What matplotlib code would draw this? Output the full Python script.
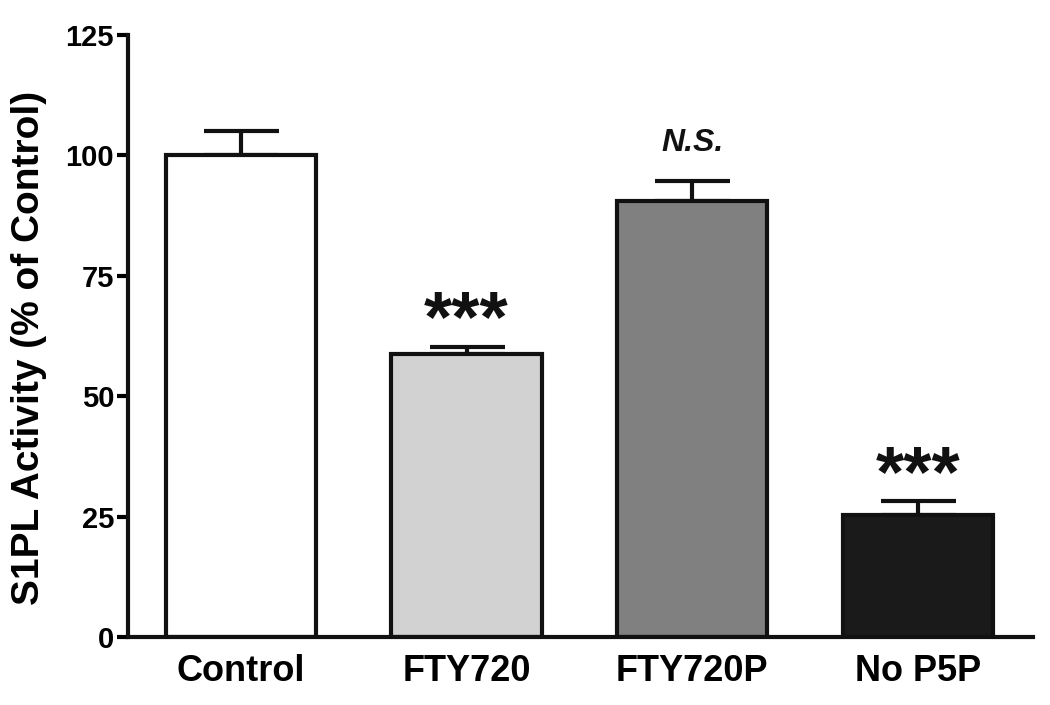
import numpy as np
import matplotlib
matplotlib.use("Agg")
import matplotlib.pyplot as plt

plt.rcParams["font.family"] = ["Liberation Sans", "DejaVu Sans"]
plt.rcParams["font.weight"] = "bold"

# ── data ───────────────────────────────────────────────────────────────────
groups = ["Control", "FTY720", "FTY720P", "No P5P"]
means  = [100.0, 58.8, 90.6, 25.4]
sems   = [5.1, 1.5, 4.1, 2.8]
marks  = ["", "***", "N.S.", "***"]
colors = ["#ffffff", "#d2d2d2", "#808080", "#1a1a1a"]

# ── figure ─────────────────────────────────────────────────────────────────
fig = plt.figure(figsize=(10.5, 7.05), dpi=100)
ax = fig.add_axes([0.1219, 0.0965, 0.8619, 0.8539])

x = np.arange(len(groups))
ax.bar(x, means, width=0.665, color=colors, edgecolor="#111111", linewidth=3, zorder=2)
ax.errorbar(x, means, yerr=[np.zeros(len(sems)), sems], fmt="none",
            ecolor="#111111", elinewidth=3, capsize=27, capthick=3, zorder=1)

for xi, m, s, lab in zip(x, means, sems, marks):
    if lab == "***":
        ax.text(xi, m + s - 2.0, lab, ha="center", va="bottom", fontsize=52,
                fontweight="bold", color="#111111")
    elif lab:
        ax.text(xi, m + s + 4.8, lab, ha="center", va="bottom", fontsize=23,
                fontweight="bold", style="italic", color="#111111")

ax.set_xlim(-0.5, 3.51)
ax.set_ylim(0, 125)
ax.set_yticks([0, 25, 50, 75, 100, 125])
ax.set_xticks(x)
ax.set_xticklabels(groups, fontsize=26, fontweight="bold")
ax.tick_params(axis="y", labelsize=21, width=3, length=8, pad=2)
ax.tick_params(axis="x", length=0, pad=12)
ax.set_ylabel("S1PL Activity (% of Control)", fontsize=28, fontweight="bold")
ax.yaxis.set_label_coords(-0.09, 0.48)

for side in ["top", "right"]:
    ax.spines[side].set_visible(False)
for side in ["left", "bottom"]:
    ax.spines[side].set_linewidth(3)
    ax.spines[side].set_color("#111111")

fig.savefig("out.png", dpi=100)
